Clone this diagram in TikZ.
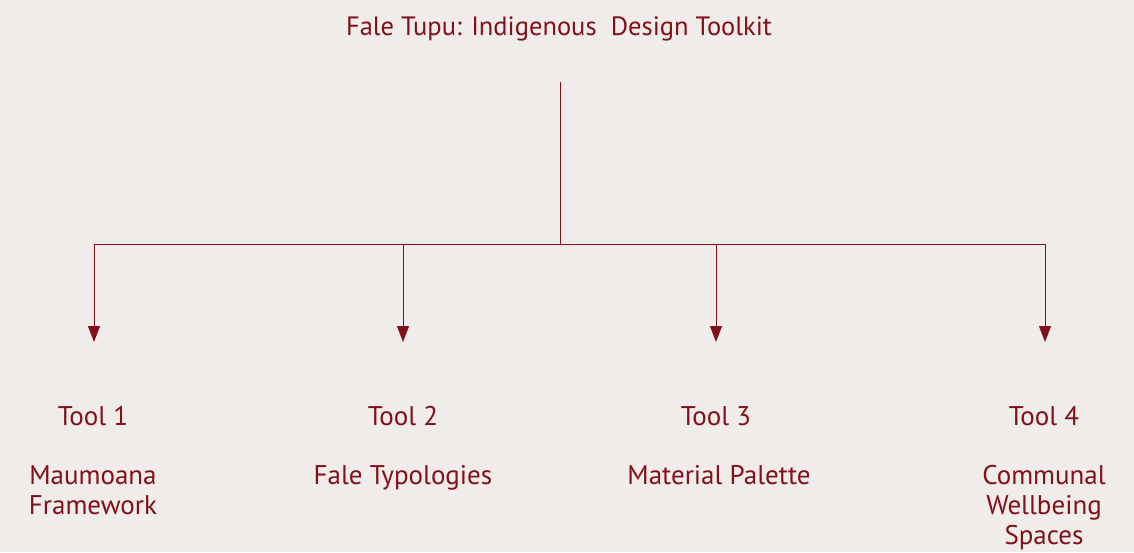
\documentclass[tikz,border=0pt]{standalone}
\usepackage{fontspec}
\setmainfont{PT Sans}
\usetikzlibrary{arrows.meta}
\definecolor{dred}{RGB}{130,16,26}
\definecolor{bgc}{RGB}{240,236,233}
\tikzset{
  lbl/.style={text=dred, inner sep=0pt, align=center, anchor=base, font=\fontsize{27}{30}\selectfont},
  ttl/.style={text=dred, inner sep=0pt, anchor=base, font=\fontsize{26.5}{30}\selectfont},
  conn/.style={draw=dred, line width=1pt},
  arr/.style={conn, -{Triangle[length=16pt,width=12pt]}}
}
\begin{document}
\begin{tikzpicture}[x=1pt,y=-1pt]
\fill[bgc] (0,0) rectangle (1134,552);
\useasboundingbox (0,0) rectangle (1134,552);
\node[ttl] (title) at (559,35) {Fale Tupu: Indigenous\ \ Design Toolkit};
\coordinate (top) at (560,82);
\coordinate (hub) at (560,244);
\coordinate (l) at (94,244);
\coordinate (r) at (1045,244);
\coordinate (b2) at (403,244);
\coordinate (b3) at (716,244);
\coordinate (e1) at (94,342);
\coordinate (e2) at (403,342);
\coordinate (e3) at (716,342);
\coordinate (e4) at (1045,342);
\draw[conn] (top) -- (hub);
\draw[conn] (l) -- (r);
\draw[arr] (l) -- (e1);
\draw[arr] (b2) -- (e2);
\draw[arr] (b3) -- (e3);
\draw[arr] (r) -- (e4);
\node[lbl] (t1) at (93,425) {Tool 1};
\node[lbl] (t2) at (403,425) {Tool 2};
\node[lbl] (t3) at (716,425) {Tool 3};
\node[lbl] (t4) at (1044,425) {Tool 4};
\node[lbl] (d1) at (93,514) {Maumoana\\Framework};
\node[lbl] (d2) at (403,484) {Fale Typologies};
\node[lbl] (d3) at (719,484) {Material Palette};
\node[lbl] (d4) at (1044,544) {Communal\\Wellbeing\\Spaces};
\end{tikzpicture}
\end{document}
